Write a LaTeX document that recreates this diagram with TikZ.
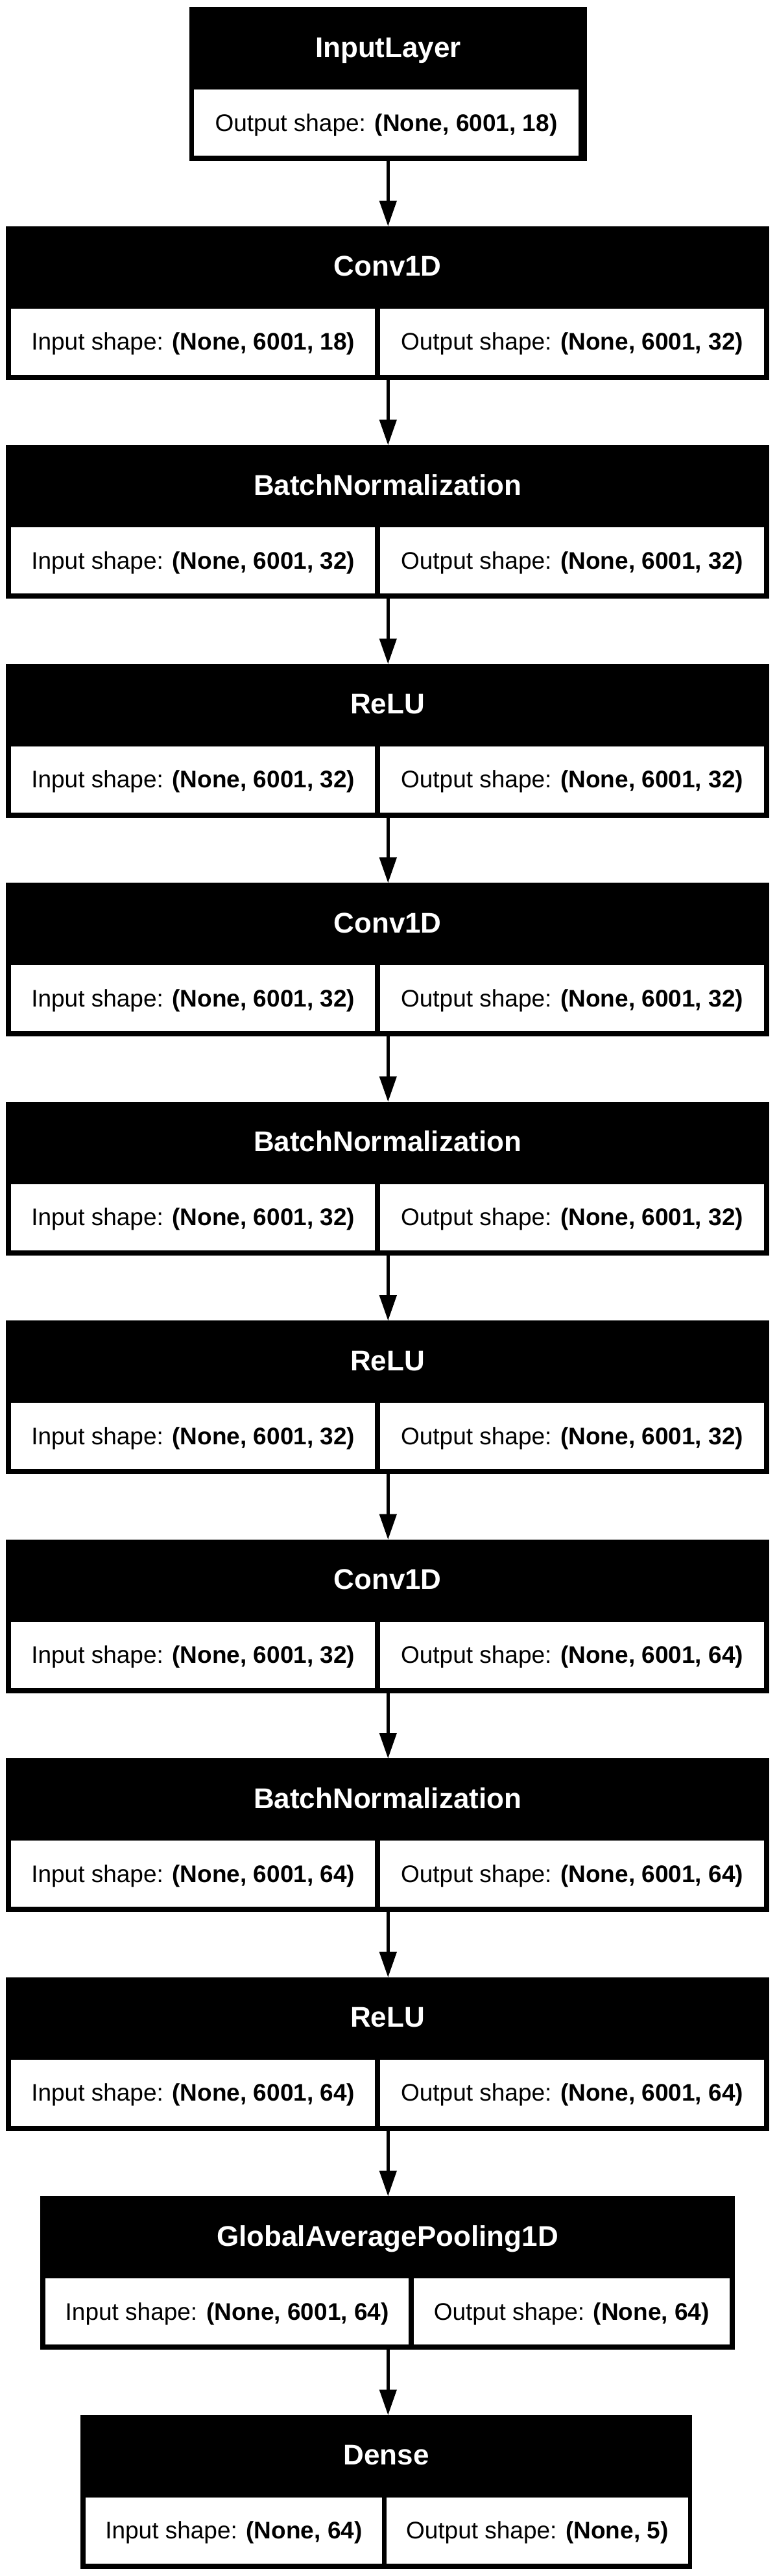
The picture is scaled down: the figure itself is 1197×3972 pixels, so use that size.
\documentclass[tikz,border=0pt]{standalone}
\usepackage{fontspec}
\setmainfont{Liberation Sans}
\usetikzlibrary{arrows.meta}
\newcommand\lyrbody{\fontsize{37}{44}\selectfont}
\newcommand\lyrhead{\fontsize{44}{52}\selectfont\bfseries}
\tikzset{
  blackbox/.style={fill=black, draw=none, inner sep=0pt, outer sep=0pt, minimum height=237.4pt},
  headtext/.style={text=white, font=\lyrhead, inner sep=0pt, outer sep=0pt, anchor=base},
  cellbox/.style={fill=white, draw=none, inner sep=0pt, outer sep=0pt, minimum height=102.3pt, text height=25.7pt, text depth=0pt, font=\lyrbody, anchor=north west},
  arr/.style={line width=4.6pt, -{Triangle[length=39pt,width=27.4pt,line width=0pt]}},
}
\newcommand\mkbox[5]{%
  \node[blackbox, minimum width={(#4)-(#3)}, anchor=north west] (#1) at (#3,#2) {};
  \node[headtext] (#1-head) at ({((#3)+(#4))/2},{(#2)+77.3}) {#5};
}
\newcommand\mkcell[5]{%
  \node[cellbox, minimum width={(#4)-(#3)}] (#1) at (#3,{(#2)+127}) {#5};
}
\newcommand\mkmid[5]{% name, T, header, in, out
  \mkbox{#1}{#2}{9.3}{1186}{#3}
  \mkcell{#1-in}{#2}{17.3}{578.3}{Input shape: \textbf{#4}}
  \mkcell{#1-out}{#2}{586}{1178}{Output shape: \textbf{#5}}
}
\begin{document}
\begin{tikzpicture}[x=1pt,y=-1pt]
\useasboundingbox (0,0) rectangle (1197,3972);
\coordinate (ax) at (598.3,0);

% InputLayer
\mkbox{L0}{11}{291.7}{905.3}{InputLayer}
\mkcell{L0-out}{11}{299.3}{891.7}{Output shape: \textbf{(None, 6001, 18)}}

\mkmid{L1}{348.5}{Conv1D}{(None, 6001, 18)}{(None, 6001, 32)}
\mkmid{L2}{686}{BatchNormalization}{(None, 6001, 32)}{(None, 6001, 32)}
\mkmid{L3}{1023.5}{ReLU}{(None, 6001, 32)}{(None, 6001, 32)}
\mkmid{L4}{1361}{Conv1D}{(None, 6001, 32)}{(None, 6001, 32)}
\mkmid{L5}{1698.5}{BatchNormalization}{(None, 6001, 32)}{(None, 6001, 32)}
\mkmid{L6}{2036}{ReLU}{(None, 6001, 32)}{(None, 6001, 32)}
\mkmid{L7}{2373.5}{Conv1D}{(None, 6001, 32)}{(None, 6001, 64)}
\mkmid{L8}{2711}{BatchNormalization}{(None, 6001, 64)}{(None, 6001, 64)}
\mkmid{L9}{3048.5}{ReLU}{(None, 6001, 64)}{(None, 6001, 64)}

% GlobalAveragePooling1D
\mkbox{L10}{3386}{62}{1133}{GlobalAveragePooling1D}
\mkcell{L10-in}{3386}{70}{630.4}{Input shape: \textbf{(None, 6001, 64)}}
\mkcell{L10-out}{3386}{637.6}{1125}{Output shape: \textbf{(None, 64)}}

% Dense
\mkbox{L11}{3723.5}{124.3}{1067}{Dense}
\mkcell{L11-in}{3723.5}{132.3}{588.5}{Input shape: \textbf{(None, 64)}}
\mkcell{L11-out}{3723.5}{595.5}{1061}{Output shape: \textbf{(None, 5)}}

% connectors
\draw[arr] (L0.south -| ax) -- (L1.north -| ax);
\draw[arr] (L1.south -| ax) -- (L2.north -| ax);
\draw[arr] (L2.south -| ax) -- (L3.north -| ax);
\draw[arr] (L3.south -| ax) -- (L4.north -| ax);
\draw[arr] (L4.south -| ax) -- (L5.north -| ax);
\draw[arr] (L5.south -| ax) -- (L6.north -| ax);
\draw[arr] (L6.south -| ax) -- (L7.north -| ax);
\draw[arr] (L7.south -| ax) -- (L8.north -| ax);
\draw[arr] (L8.south -| ax) -- (L9.north -| ax);
\draw[arr] (L9.south -| ax) -- (L10.north -| ax);
\draw[arr] (L10.south -| ax) -- (L11.north -| ax);
\end{tikzpicture}
\end{document}
